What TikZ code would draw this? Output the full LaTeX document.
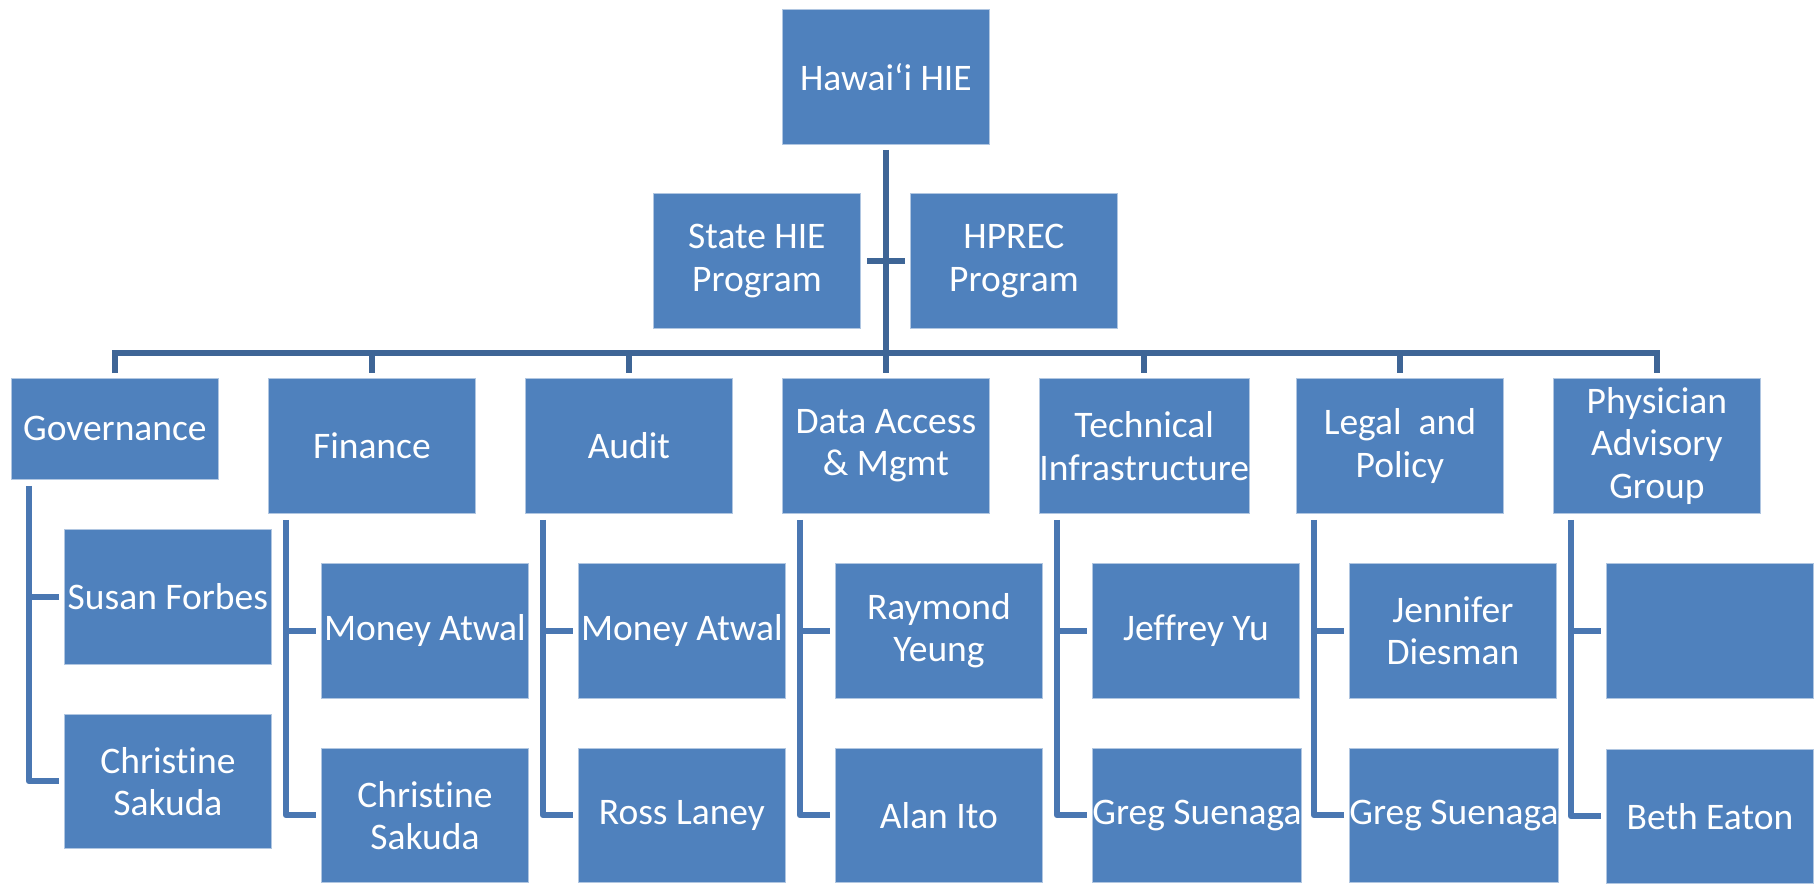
\documentclass[tikz,border=0pt]{standalone}
\usepackage{fontspec}
\setmainfont{Carlito}[Ligatures=NoCommon]
\usetikzlibrary{calc}
\definecolor{boxblue}{HTML}{4F81BD}
\definecolor{busblue}{HTML}{3E6596}
\definecolor{kidblue}{HTML}{4A77B2}
\begin{document}
\begin{tikzpicture}[x=1pt,y=-1pt,
  orgbox/.style={rectangle, fill=boxblue, draw=white!55!boxblue, line width=0.8pt,
    minimum width=207pt, minimum height=135pt, inner sep=0pt, text=white,
    align=center, anchor=north west, font=\fontsize{37.5}{42.5}\selectfont},
  busline/.style={draw=busblue, line width=6pt},
  kidline/.style={draw=kidblue, line width=6pt, line join=round}]
\useasboundingbox (0,0) rectangle (1816,884);

% top level
\node[orgbox] (root) at (782,9) {Hawai‘i HIE};
\node[orgbox] (state) at (653,193) {State HIE\\Program};
\node[orgbox] (hprec) at (910,193) {HPREC\\Program};

% second level
\node[orgbox, minimum height=101pt] (g0) at (11,378) {Governance};
\node[orgbox] (g1) at (268,378) {Finance};
\node[orgbox] (g2) at (525,378) {Audit};
\node[orgbox] (g3) at (782,378) {Data Access\\\& Mgmt};
\node[orgbox] (g4) at (1039,378) {Technical\\Infrastructure};
\node[orgbox] (g5) at (1296,378) {Legal~ and\\Policy};
\node[orgbox] (g6) at (1553,378) {Physician\\Advisory\\Group};

% third level
\node[orgbox] (a0) at (64,529) {Susan Forbes};
\node[orgbox, minimum height=134pt] (b0) at (64,714) {Christine\\Sakuda};
\node[orgbox] (a1) at (321,563) {Money Atwal};
\node[orgbox, minimum height=134pt] (b1) at (321,748) {Christine\\Sakuda};
\node[orgbox] (a2) at (578,563) {Money Atwal};
\node[orgbox, minimum height=134pt] (b2) at (578,748) {Ross Laney};
\node[orgbox] (a3) at (835,563) {Raymond\\Yeung};
\node[orgbox, minimum height=134pt] (b3) at (835,748) {Alan Ito};
\node[orgbox] (a4) at (1092,563) {Jeffrey Yu};
\node[orgbox, minimum height=134pt] (b4) at (1092,748) {Greg Suenaga};
\node[orgbox] (a5) at (1349,563) {Jennifer\\Diesman};
\node[orgbox, minimum height=134pt] (b5) at (1349,748) {Greg Suenaga};
\node[orgbox] (a6) at (1606,563) {};
\node[orgbox, minimum height=134pt] (b6) at (1606,749) {Beth Eaton};

% connectors
\coordinate (busy) at (0,353);
\draw[busline] ($(root.south)+(0,5)$) -- ($(g3.north)+(0,-5)$);
\draw[busline] ($(state.east)+(6,0)$) -- ($(hprec.west)+(-5,0)$);
\draw[busline] ($(g0.north)+(0,-5)$) -- (g0.north |- busy) -- (g6.north |- busy) -- ($(g6.north)+(0,-5)$);
\foreach \i in {1,2,4,5}{
  \draw[busline] (g\i.north |- busy) -- ($(g\i.north)+(0,-5)$);
}
\foreach \i in {0,...,6}{
  \coordinate (v\i) at ($(g\i.south west)+(18,6)$);
  \draw[kidline] (v\i) |- ($(b\i.west)+(-5,0)$);
  \draw[kidline] (v\i |- a\i.west) -- ($(a\i.west)+(-5,0)$);
}
\end{tikzpicture}
\end{document}
